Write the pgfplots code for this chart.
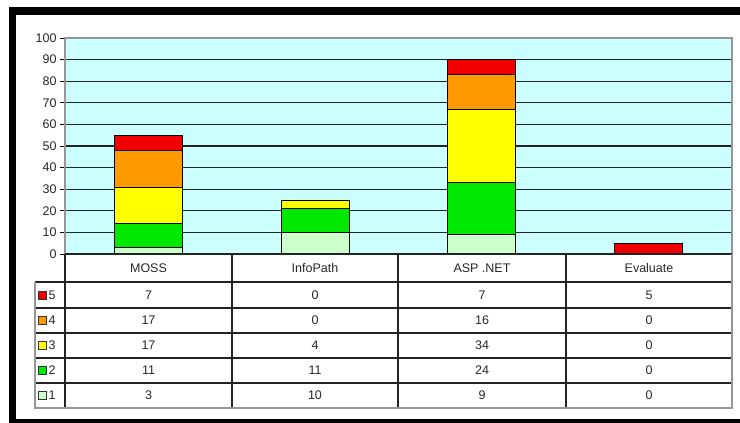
\documentclass[border=0pt]{standalone}
\usepackage{pgfplots}
\pgfplotsset{compat=1.18}
\usepackage{fontspec}
\setmainfont{Liberation Sans}
\definecolor{bgc}{RGB}{204,255,255}
\definecolor{c1}{RGB}{204,255,204}
\definecolor{c2}{RGB}{0,232,0}
\definecolor{c3}{RGB}{255,255,0}
\definecolor{c4}{RGB}{255,153,0}
\definecolor{c5}{RGB}{240,0,0}
\definecolor{gridc}{RGB}{35,35,35}
\definecolor{axc}{RGB}{150,150,150}
\begin{document}
\begin{tikzpicture}[x=1pt,y=1pt]
\path[use as bounding box] (0pt,0pt) rectangle (740pt,423pt);
\fill[black] (9pt,0pt) rectangle (16pt,416pt);
\fill[black] (9pt,408pt) rectangle (740pt,416pt);
\fill[black] (9pt,0pt) rectangle (740pt,4pt);
\begin{axis}[at={(65pt,169pt)}, anchor=south west, scale only axis,
  width=667pt, height=216pt,
  xmin=-0.5, xmax=3.5, ymin=0, ymax=100, ytick={0,10,...,100}, xtick=\empty,
  ybar stacked, bar width=68pt,
  axis background/.style={fill=bgc},
  ymajorgrids, grid style={gridc, line width=1.2pt},
  axis line style={axc, line width=1.2pt},
  ytick style={black, line width=0.8pt}, tick align=outside, major tick length=5pt, ytick pos=left,
  yticklabel style={font=\fontsize{12.5}{12.5}\selectfont, text=black!85},
  /pgf/number format/assume math mode=true,
  every axis plot/.append style={draw=black, line width=0.9pt},
]
\addplot[fill=c1] coordinates {(0,3) (1,10) (2,9) (3,0)};
\addplot[fill=c2] coordinates {(0,11) (1,11) (2,24) (3,0)};
\addplot[fill=c3] coordinates {(0,17) (1,4) (2,34) (3,0)};
\addplot[fill=c4] coordinates {(0,17) (1,0) (2,16) (3,0)};
\addplot[fill=c5] coordinates {(0,7) (1,0) (2,7) (3,5)};
\end{axis}
% data table
\begin{scope}[every node/.style={font=\fontsize{12.5}{12.5}\selectfont, text=black!85}]
\foreach \yy in {141,115,90,65,40} \draw[gridc, line width=1.1pt] (35pt,\yy pt) -- (732pt,\yy pt);
\foreach \xx in {65,232,398,566} \draw[gridc, line width=1.1pt] (\xx pt,169pt) -- (\xx pt,15pt);
\draw[gridc, line width=1.1pt] (65pt,169pt) -- (732pt,169pt);
\draw[axc, line width=1.6pt] (35pt,141pt) -- (35pt,15pt) -- (732pt,15pt) -- (732pt,169pt);
\node at (148.5pt,155pt) {MOSS};
\node at (315pt,155pt) {InfoPath};
\node at (482pt,155pt) {ASP .NET};
\node at (649pt,155pt) {Evaluate};
\foreach \lab/\col/\yy/\a/\b/\c/\d in {5/c5/128/7/0/7/5, 4/c4/102.5/17/0/16/0, 3/c3/77.5/17/4/34/0, 2/c2/52.5/11/11/24/0, 1/c1/27.5/3/10/9/0}{
  \filldraw[fill=\col, draw=black!80, line width=0.7pt] (38pt,\yy pt-4pt) rectangle (46pt,\yy pt+4pt);
  \node[anchor=west, inner sep=0pt] at (48.5pt,\yy pt) {\lab};
  \node at (148.5pt,\yy pt) {\a};
  \node at (315pt,\yy pt) {\b};
  \node at (482pt,\yy pt) {\c};
  \node at (649pt,\yy pt) {\d};
}
\end{scope}
\end{tikzpicture}
\end{document}
